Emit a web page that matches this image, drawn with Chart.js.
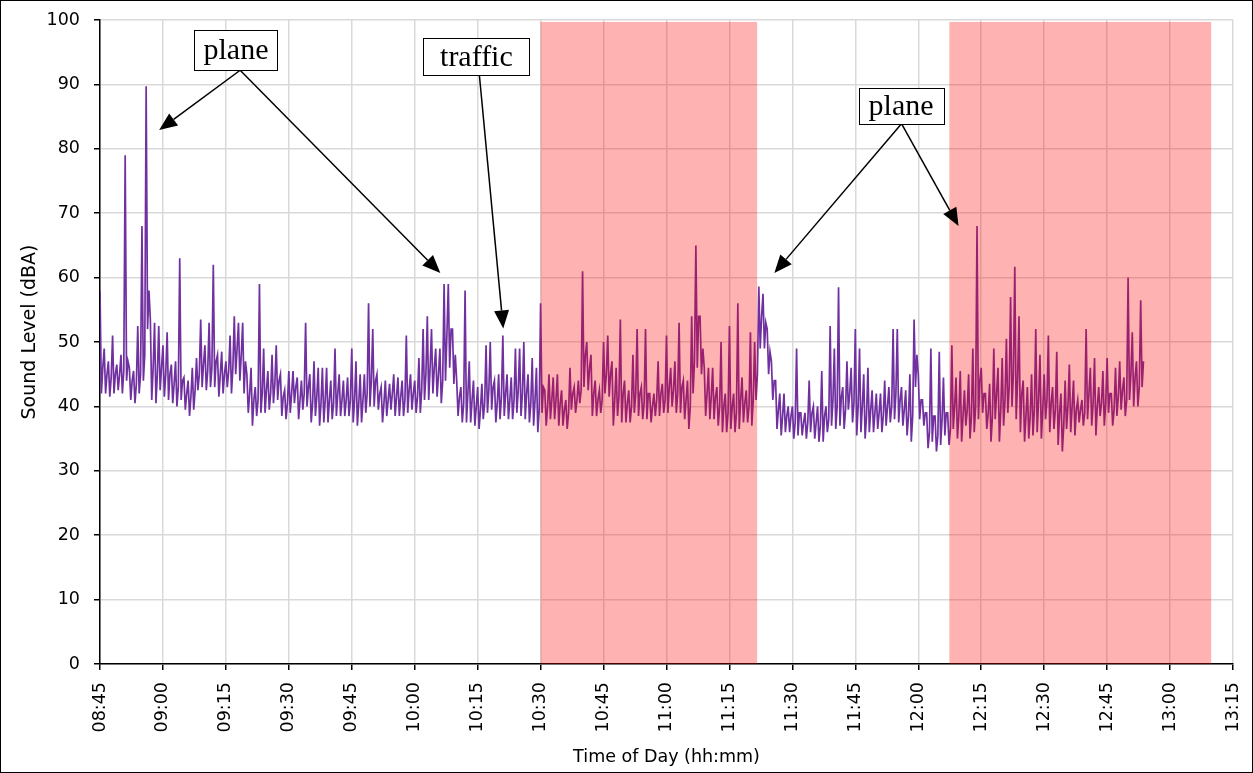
<!DOCTYPE html>
<html lang="en">
<head>
    <meta charset="UTF-8">
    <title>Sound Level</title>
    <script src="https://cdn.jsdelivr.net/npm/chart.js"></script>
    <style>
        html, body { margin: 0; padding: 0; background: #fff; }
        #wrap { width: 1253px; height: 773px; position: relative; }
    </style>
</head>
<body>
<div id="wrap"><canvas id="chart"></canvas></div>
<script>
    // minutes since midnight, 08:45 .. 13:15
    const startMinute = 525;
    const endMinute = 795;
    const yTicks = [0, 100, 10];

    // per-minute peak, floor and typical upper level (dBA)
    const peakLevels = [
        58, 49, 47, 51, 46.5, 48, 79, 46, 45.5, 52.5,
        68, 89.7, 53.5, 53, 52.5, 49.5, 51.5, 46.5, 47, 63,
        44.5, 44, 46, 47.5, 53.5, 49.5, 53, 62, 48, 48.5,
        47, 51, 54, 53, 53, 45, 46, 43, 59, 49,
        45.5, 48, 49.5, 45, 42.5, 45.5, 45.5, 44.5, 44, 53,
        45, 47, 46, 46, 46, 44, 49, 45, 44, 44.5,
        49, 47, 45, 45, 56, 52, 45, 43, 44, 43.5,
        45, 44.5, 44, 51, 45, 44, 47.5, 52, 54, 52,
        49, 49, 59, 59, 52, 44, 43, 58, 47, 44,
        43, 43.5, 49.5, 50, 44, 45, 51, 45, 44.5, 49,
        49, 50, 45, 47.5, 46, 56, 42.5, 45, 44.5, 45,
        42.5, 41, 46, 43, 44, 61, 50, 48, 44, 42.5,
        50, 51, 47, 46, 53.5, 44, 42.5, 48, 52, 43,
        52, 42, 42, 47, 43.5, 51, 46, 47, 53, 44,
        44, 54, 65, 54, 46, 46, 46, 43, 50, 42,
        52.5, 42, 56, 44.5, 42.5, 51.5, 50, 58.6, 57.5, 52,
        47, 44, 42, 42, 40, 40, 49, 39, 39, 44,
        40, 40, 45.5, 40, 52.5, 49, 58.5, 43, 47, 46,
        52, 49, 45, 46, 42.5, 42, 42, 44, 43, 52,
        52, 43, 42.5, 45, 53.5, 45, 41, 39, 49, 38.5,
        48.5, 44.5, 39, 49.5, 44.5, 45.5, 42.5, 45, 49, 68,
        46, 42, 43.5, 49, 46, 47.5, 50.5, 57, 61.7, 54,
        44, 43, 45, 52, 48, 45, 51, 43, 48.5, 42,
        44, 46.5, 44, 41, 41, 52, 46, 47.5, 43, 45.5,
        47.5, 42, 46, 47, 44.5, 60, 51.5, 47, 56.5
    ];
    const floorLevels = [
        42, 42, 41.5, 42, 42.5, 42, 44, 41, 40.5, 42,
        44, 52, 41, 40.5, 42.5, 41.5, 41, 40.5, 40, 41,
        39.5, 38.5, 39.5, 42.5, 43, 42.5, 43, 43, 41.5, 42,
        43, 42, 45, 44, 42, 39, 37, 38.5, 39, 39,
        39.5, 40.5, 41, 38.5, 38, 39, 40.5, 38, 39.5, 40,
        37.5, 38.5, 37, 37.5, 37.5, 38, 38.5, 38.5, 38.5, 38.5,
        37.5, 37, 37.5, 39, 40, 40, 39.5, 37.5, 38.5, 39.5,
        38.5, 38.5, 38.5, 39, 39.5, 39, 39, 41, 41, 42,
        41.5, 40.5, 44, 46, 43.5, 38.5, 37.5, 37.5, 37.5, 37,
        36.5, 38, 39, 39.5, 37.5, 38, 38.5, 38, 38, 39,
        38.5, 38, 37.5, 37, 36, 39, 37, 38, 38, 37,
        37, 36.5, 39.5, 39, 40.5, 43, 42.5, 38.5, 38.5, 39,
        42, 41.5, 37, 38.5, 37.5, 37.5, 37.5, 39, 38.5, 38,
        38, 37.5, 38.5, 38.5, 39, 39, 40, 39, 39, 38,
        36.5, 42, 46, 45, 38.5, 38, 38, 37, 36, 36,
        36.5, 36, 36.5, 37.5, 37.5, 37, 41, 49, 49, 45,
        41, 36.5, 35.5, 36, 36, 35, 35.5, 35.5, 35, 36,
        35, 34.5, 34.5, 36, 37, 36.5, 37, 36.5, 39.5, 37.5,
        35.5, 36, 35, 36, 36, 36.5, 36, 37, 37.5, 38,
        37.5, 37, 35.5, 34.5, 43, 38, 37, 33.5, 34.5, 33,
        34, 35.5, 34, 36.5, 35, 34.5, 37, 35, 36, 38,
        39, 36.5, 34.5, 38, 34.5, 37, 39, 40, 38, 36,
        34.5, 35, 35.5, 36, 35, 38, 36, 36.5, 34, 33,
        36.5, 36, 35.5, 37.5, 37, 38, 37, 35.5, 38.5, 37,
        39, 37, 38.5, 39.5, 38.5, 41, 40, 40, 43
    ];
    const coreLevels = [
        46, 45, 44.5, 45, 45, 45.5, 47, 44, 43.5, 45,
        48, 58, 46, 45, 46, 45, 45, 43.5, 43, 44,
        42, 41.5, 42.5, 45, 46.5, 45.5, 46, 47, 45, 45,
        45.5, 46, 49, 48, 47, 42, 41, 41, 42, 42.5,
        42, 43.5, 44, 41.5, 40.5, 42, 43, 41, 42, 43,
        40.5, 41.5, 40.5, 41, 41, 40.5, 42, 41, 41, 41,
        41, 40.5, 41, 42, 44, 44, 42, 40.5, 41, 42,
        41.5, 41.5, 41, 42.5, 42, 41.5, 42.5, 45, 46, 46,
        45, 44, 51, 52, 48, 41.5, 40.5, 42, 41, 40,
        39.5, 40.5, 42.5, 43, 40.5, 41.5, 42, 41, 41, 42.5,
        42, 42, 40.5, 41, 39.5, 43, 40, 41, 41, 40.5,
        39.5, 39, 42, 41, 42.5, 48, 46, 42, 41, 41,
        45, 45, 41, 41.5, 42, 40.5, 40, 42, 42, 40.5,
        42, 40, 41, 42, 41, 43, 42.5, 42, 43, 41,
        40, 47, 54, 49, 42, 41.5, 41.5, 40, 40, 39,
        40, 39, 41, 40.5, 40, 41, 45, 54, 53, 48.5,
        44, 39.5, 38.5, 38.5, 38.5, 37.5, 39, 37.5, 37.5, 39,
        37.5, 37, 38.5, 38, 41, 40, 41.5, 39.5, 42, 40.5,
        40, 40, 38.5, 39.5, 39, 39, 38.5, 40, 40, 42,
        41, 39.5, 38.5, 38.5, 48, 41, 39, 36, 38.5, 35.5,
        38, 39, 36.5, 40, 38.5, 38.5, 39.5, 38.5, 40, 44,
        42, 39, 38.5, 42, 39.5, 41, 43, 45, 44, 42,
        38.5, 38.5, 39.5, 41, 39.5, 41, 40.5, 39.5, 39, 37,
        40, 40, 39.5, 39.5, 39, 42, 40.5, 40, 40.5, 40.5,
        42, 39.5, 41.5, 42.5, 41, 45, 44.5, 43, 47
    ];

    // shaded periods [from, to] in minutes since midnight
    const shadedPeriods = [[630, 681.6], [727.4, 789.8]];
    const shadeTop = 99.7;

    // call-outs, placed in data coordinates
    const noteBoxes = [
        { text: 'plane', x: 557.4, y: 95.3, w: 83, h: 40 },
        { text: 'traffic', x: 614.7, y: 94.3, w: 106, h: 37 },
        { text: 'plane', x: 715.9, y: 86.6, w: 85, h: 36 }
    ];
    const noteArrows = [
        { from: [558.4, 92.2], to: [539.1, 82.9] },
        { from: [558.4, 92.2], to: [606.1, 60.7] },
        { from: [615.4, 91.5], to: [621.1, 52.1] },
        { from: [716.0, 83.9], to: [685.7, 60.7] },
        { from: [716.0, 83.9], to: [729.6, 68.0] }
    ];

    const points = [];
    peakLevels.forEach((v, i) => {
        points.push({ x: startMinute + i, y: v });
        points.push({ x: startMinute + i + 1 / 3, y: floorLevels[i] });
        points.push({ x: startMinute + i + 2 / 3, y: coreLevels[i] });
    });

    function hhmm(v) {
        const h = Math.floor(v / 60), m = Math.round(v % 60);
        return String(h).padStart(2, '0') + ':' + String(m).padStart(2, '0');
    }

    function drawArrow(ctx, x1, y1, x2, y2) {
        const ang = Math.atan2(y2 - y1, x2 - x1);
        const len = 18, half = 7.5;
        const bx = x2 - len * Math.cos(ang), by = y2 - len * Math.sin(ang);
        ctx.beginPath();
        ctx.moveTo(x1, y1);
        ctx.lineTo(bx, by);
        ctx.stroke();
        ctx.beginPath();
        ctx.moveTo(x2, y2);
        ctx.lineTo(bx + half * Math.sin(ang), by - half * Math.cos(ang));
        ctx.lineTo(bx - half * Math.sin(ang), by + half * Math.cos(ang));
        ctx.closePath();
        ctx.fill();
    }

    const overlays = {
        id: 'overlays',
        beforeDraw(chart) {
            const ctx = chart.ctx;
            ctx.save();
            ctx.fillStyle = '#fff';
            ctx.fillRect(0, 0, chart.width, chart.height);
            ctx.restore();
        },
        afterDatasetsDraw(chart) {
            const { ctx, scales: { x, y } } = chart;
            ctx.save();
            ctx.fillStyle = 'rgba(255, 0, 0, 0.3)';
            shadedPeriods.forEach(([a, b]) => {
                const x1 = x.getPixelForValue(a), x2 = x.getPixelForValue(b);
                const top = y.getPixelForValue(shadeTop), bottom = y.getPixelForValue(0);
                ctx.fillRect(x1, top, x2 - x1, bottom - top);
            });
            ctx.restore();
        },
        afterDraw(chart) {
            const { ctx, scales: { x, y } } = chart;
            ctx.save();
            ctx.strokeStyle = '#000';
            ctx.fillStyle = '#000';
            ctx.lineWidth = 1.5;
            noteArrows.forEach(a => {
                drawArrow(ctx, x.getPixelForValue(a.from[0]), y.getPixelForValue(a.from[1]),
                    x.getPixelForValue(a.to[0]), y.getPixelForValue(a.to[1]));
            });
            ctx.font = '30px "Liberation Serif"';
            ctx.textAlign = 'center';
            ctx.textBaseline = 'middle';
            ctx.lineWidth = 1;
            noteBoxes.forEach(n => {
                const cx = x.getPixelForValue(n.x), cy = y.getPixelForValue(n.y);
                ctx.fillStyle = '#fff';
                ctx.fillRect(cx - n.w / 2, cy - n.h / 2, n.w, n.h);
                ctx.strokeStyle = '#000';
                ctx.strokeRect(Math.round(cx - n.w / 2) + 0.5, Math.round(cy - n.h / 2) + 0.5, n.w, n.h);
                ctx.fillStyle = '#000';
                ctx.fillText(n.text, cx, cy + 1);
            });
            // y axis title, sits a little above the plot centre
            ctx.save();
            ctx.translate(30, 332);
            ctx.rotate(-Math.PI / 2);
            ctx.font = '19px "DejaVu Sans"';
            ctx.fillText('Sound Level (dBA)', 0, 0);
            ctx.restore();
            // outer frame
            ctx.strokeStyle = '#000';
            ctx.strokeRect(0.5, 0.5, chart.width - 1, chart.height - 1);
            ctx.restore();
        }
    };

    const tickFont = { family: '"DejaVu Sans"', size: 17.5 };

    new Chart(document.getElementById('chart'), {
        type: 'line',
        data: {
            datasets: [{
                label: 'Sound Level',
                data: points,
                borderColor: '#7030a0',
                borderWidth: 1.7,
                pointRadius: 0,
                tension: 0,
                fill: false
            }]
        },
        options: {
            responsive: true,
            maintainAspectRatio: false,
            animation: false,
            parsing: false,
            normalized: true,
            layout: { padding: { top: 20, right: 20, left: 0, bottom: 0 } },
            plugins: { legend: { display: false }, tooltip: { enabled: false } },
            scales: {
                x: {
                    type: 'linear',
                    min: startMinute,
                    max: endMinute,
                    afterFit(s) { s.height = 109; s.paddingLeft = 0; s.paddingRight = 0; },
                    grid: { color: '#d9d9d9', lineWidth: 1.5, tickColor: '#000', tickLength: 6, tickWidth: 1.5 },
                    border: { color: '#000', width: 1.5 },
                    ticks: {
                        stepSize: 15,
                        minRotation: 90,
                        maxRotation: 90,
                        padding: 12,
                        color: '#000',
                        font: tickFont,
                        callback: v => hhmm(v)
                    },
                    title: {
                        display: true,
                        text: 'Time of Day (hh:mm)',
                        color: '#000',
                        font: tickFont,
                        padding: { top: 0, bottom: 5 }
                    }
                },
                y: {
                    min: yTicks[0],
                    max: yTicks[1],
                    afterFit(s) { s.width = 100; s.paddingTop = 0; s.paddingBottom = 0; },
                    grid: { color: '#d9d9d9', lineWidth: 1.5, tickColor: '#000', tickLength: 6, tickWidth: 1.5 },
                    border: { color: '#000', width: 1.5 },
                    ticks: {
                        stepSize: yTicks[2],
                        padding: 14,
                        color: '#000',
                        font: tickFont
                    }
                }
            }
        },
        plugins: [overlays]
    });
</script>
</body>
</html>
